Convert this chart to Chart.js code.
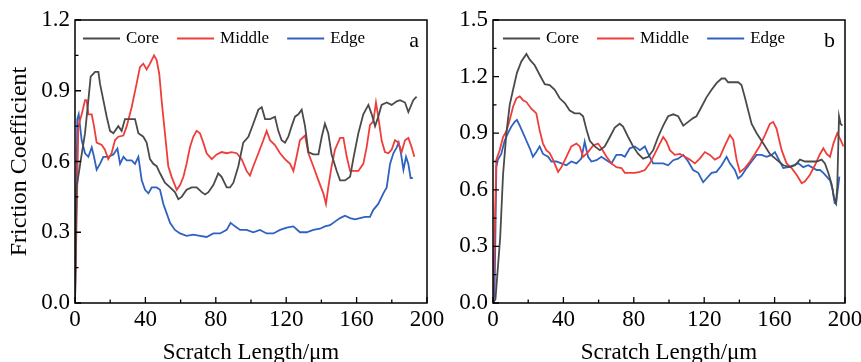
<!DOCTYPE html>
<html>
<head>
<meta charset="utf-8">
<script src="https://cdn.jsdelivr.net/npm/chart.js@4"></script>
<style>
body { margin: 0; background: #fff; }
#wrap { position: relative; width: 861px; height: 362px; overflow: hidden; }
canvas { position: absolute; top: 0; }
#chartA { left: 0; }
#chartB { left: 430px; }
</style>
</head>
<body>
<div id="wrap">
<canvas id="chartA" width="460" height="362"></canvas>
<canvas id="chartB" width="431" height="362"></canvas>
</div>
<script>
const seriesNames = ['Core', 'Middle', 'Edge']
const seriesColors = ['#4a4a4a', '#ef3e3a', '#2f62c0']
const xTicks = [0, 40, 80, 120, 160, 200]
const yTicksA = [0, 0.3, 0.6, 0.9, 1.2]
const yTicksB = [0, 0.3, 0.6, 0.9, 1.2, 1.5]

// panel a
const coreAX = [0, 0.9, 3.8, 5.7, 7.6, 8.9, 11.4, 13.3, 14.2, 16.1, 18, 19.9, 21.8, 24.6, 26.5, 28.4, 31.3, 34.1, 36, 38.8, 40.7, 42.6, 44.5, 46.4, 48.3, 51.1, 54, 56.8, 58.7, 60.6, 63.4, 66.3, 69.1, 72, 73.9, 75.8, 78.6, 81.4, 83.3, 86.2, 88.1, 90, 92.8, 95.6, 98.5, 101.3, 104.2, 106.1, 108, 110.8, 113.6, 115.5, 117.4, 119.3, 121.2, 123.1, 125, 126.9, 128.8, 130.7, 132.6, 135.4, 138.3, 140.2, 142, 143.9, 145.8, 148.7, 150.6, 153.4, 156.3, 158.1, 161, 163.8, 166.7, 168.6, 170.5, 172.3, 174.2, 177.1, 179.9, 182.8, 184.7, 187.5, 189.4, 192.2, 194.1]
const coreAY = [0, 0.49, 0.63, 0.72, 0.86, 0.96, 0.98, 0.98, 0.93, 0.86, 0.79, 0.73, 0.72, 0.75, 0.73, 0.78, 0.78, 0.78, 0.72, 0.705, 0.68, 0.61, 0.59, 0.58, 0.55, 0.51, 0.49, 0.47, 0.44, 0.45, 0.48, 0.49, 0.49, 0.47, 0.46, 0.47, 0.5, 0.55, 0.535, 0.49, 0.49, 0.51, 0.58, 0.68, 0.705, 0.76, 0.82, 0.83, 0.78, 0.78, 0.79, 0.73, 0.69, 0.68, 0.705, 0.75, 0.79, 0.8, 0.82, 0.75, 0.64, 0.63, 0.63, 0.705, 0.76, 0.72, 0.63, 0.56, 0.52, 0.52, 0.535, 0.61, 0.72, 0.8, 0.84, 0.8, 0.75, 0.79, 0.84, 0.85, 0.84, 0.855, 0.86, 0.85, 0.81, 0.86, 0.875]
const middleAX = [0, 1.9, 3.8, 5.7, 6.6, 7.6, 9.5, 10.8, 12.3, 15.2, 17, 18.9, 20.8, 22.7, 24.6, 27.5, 29.4, 32.2, 35, 36.9, 38.8, 40.7, 42.6, 44.9, 46.4, 47.9, 49.2, 51.1, 53, 54.9, 57.8, 59.7, 61.6, 63.4, 65.3, 67.2, 69.1, 71, 72.9, 74.8, 77.7, 80.5, 83.3, 86.2, 89, 91.9, 94.7, 97.5, 99.4, 101.3, 104.2, 107, 108.9, 110.8, 113.6, 116.5, 119.3, 122.2, 124.1, 125.9, 127.8, 130.7, 132.6, 135.4, 138.3, 141.1, 142.6, 143.9, 145.8, 147.7, 150.6, 152.5, 154.4, 156.3, 158.1, 161, 163.8, 165.7, 167.6, 169.5, 171, 172.3, 174.2, 176.1, 178, 179.9, 181.8, 183.7, 185.6, 187.5, 189.4, 191.3, 192.8]
const middleAY = [0, 0.75, 0.8, 0.86, 0.86, 0.8, 0.8, 0.75, 0.68, 0.67, 0.65, 0.61, 0.635, 0.69, 0.705, 0.71, 0.75, 0.83, 0.93, 1.0, 1.015, 0.99, 1.015, 1.05, 1.03, 0.97, 0.86, 0.72, 0.58, 0.535, 0.48, 0.5, 0.535, 0.59, 0.66, 0.705, 0.73, 0.72, 0.68, 0.635, 0.61, 0.63, 0.64, 0.635, 0.64, 0.635, 0.61, 0.56, 0.54, 0.58, 0.635, 0.69, 0.73, 0.69, 0.67, 0.635, 0.61, 0.59, 0.56, 0.62, 0.69, 0.71, 0.635, 0.58, 0.52, 0.465, 0.42, 0.49, 0.58, 0.65, 0.7, 0.7, 0.62, 0.56, 0.56, 0.56, 0.59, 0.66, 0.755, 0.77, 0.85, 0.79, 0.69, 0.64, 0.635, 0.65, 0.69, 0.68, 0.64, 0.69, 0.7, 0.66, 0.62]
const edgeAX = [0, 1.3, 2.1, 3.8, 5.7, 7.6, 9.5, 10.8, 12.3, 14.2, 16.1, 18.9, 21.8, 24.1, 25.6, 27.5, 29.4, 32.2, 34.1, 36, 37.9, 39.8, 41.7, 43.6, 46.4, 48.3, 50.2, 52.1, 54, 56.8, 59.7, 63.4, 67.2, 71, 74.8, 78.6, 82.4, 86.2, 88.4, 90.9, 93.8, 97.5, 101.3, 105.1, 108.9, 112.7, 116.5, 120.3, 124.1, 127.8, 131.6, 135.4, 139.2, 142, 144.9, 147.7, 150.6, 153.4, 156.3, 159.1, 161.9, 164.8, 167.6, 169.5, 172.3, 175.2, 177.1, 179, 180.9, 182.8, 183.9, 185.2, 186.6, 188.1, 189.4, 190.7, 191.9]
const edgeAY = [0, 0.78, 0.8, 0.69, 0.635, 0.62, 0.66, 0.62, 0.565, 0.59, 0.62, 0.62, 0.63, 0.655, 0.59, 0.62, 0.605, 0.605, 0.59, 0.62, 0.52, 0.48, 0.465, 0.49, 0.49, 0.48, 0.42, 0.38, 0.34, 0.31, 0.295, 0.285, 0.29, 0.285, 0.28, 0.295, 0.295, 0.31, 0.34, 0.325, 0.31, 0.31, 0.3, 0.31, 0.295, 0.295, 0.31, 0.32, 0.325, 0.3, 0.3, 0.31, 0.315, 0.325, 0.33, 0.345, 0.36, 0.37, 0.36, 0.355, 0.36, 0.365, 0.365, 0.395, 0.42, 0.465, 0.49, 0.59, 0.635, 0.66, 0.68, 0.635, 0.565, 0.62, 0.59, 0.53, 0.53]

// panel b
const coreBX = [0, 1.4, 4.1, 5.7, 7.6, 9.5, 11.4, 13.6, 16.1, 19, 20.9, 23.7, 26.5, 29.4, 32.2, 35.1, 37.9, 40.8, 43.6, 46.4, 49.3, 51.2, 53.1, 55, 57.8, 60.7, 63.5, 66.4, 69.2, 72, 73.9, 76.8, 79.6, 82.5, 85.3, 88.2, 91, 93.8, 96.7, 99.5, 102.4, 105.2, 108.1, 110.9, 113.7, 115.6, 118.5, 121.3, 124.2, 127, 129.9, 131.8, 133.6, 136.5, 139.3, 141.2, 143.1, 145, 146.9, 149.8, 153.6, 157.3, 161.1, 164.9, 168.7, 171.6, 174.4, 177.3, 180.1, 183.9, 186.7, 188.6, 190.5, 192.4, 193.7, 194.9, 195.6, 196.6, 197.5, 198.5]
const coreBY = [0, 0.02, 0.35, 0.68, 0.9, 1.05, 1.13, 1.22, 1.28, 1.32, 1.29, 1.26, 1.21, 1.16, 1.155, 1.13, 1.085, 1.06, 1.02, 1.005, 1.005, 0.99, 0.92, 0.86, 0.83, 0.81, 0.83, 0.88, 0.93, 0.95, 0.935, 0.88, 0.83, 0.79, 0.765, 0.775, 0.81, 0.88, 0.94, 0.99, 1.0, 0.99, 0.94, 0.96, 0.98, 0.99, 1.04, 1.09, 1.13, 1.165, 1.19, 1.19, 1.17, 1.17, 1.17, 1.155, 1.09, 1.02, 0.95, 0.9, 0.845, 0.79, 0.76, 0.73, 0.72, 0.73, 0.76, 0.75, 0.75, 0.75, 0.76, 0.74, 0.69, 0.63, 0.56, 0.53, 0.615, 0.99, 0.95, 0.94]
const middleBX = [0, 1.9, 3.8, 5.7, 7.6, 9.5, 11.4, 13.3, 15.2, 17.1, 19, 21.8, 24.6, 26.5, 28.4, 30.3, 32.2, 34.1, 37, 38.9, 41.7, 44.5, 47.4, 49.3, 51.2, 54, 56.9, 59.7, 61.6, 64.5, 67.3, 70.1, 73, 74.9, 77.7, 80.6, 83.4, 86.3, 89.1, 91.9, 94.8, 96.7, 98.6, 100.5, 103.3, 106.2, 109, 111.8, 114.7, 117.5, 120.4, 123.2, 126.1, 128.9, 131.8, 134.6, 136.5, 138.4, 140.3, 143.1, 146, 148.8, 151.7, 154.5, 157.3, 159.2, 161.1, 164, 166.8, 169.7, 172.5, 175.4, 177.3, 180.1, 182.9, 185.8, 187.7, 189.6, 191.5, 193.4, 195.6, 197.5, 199.1]
const middleBY = [0, 0.76, 0.81, 0.88, 0.91, 0.97, 1.04, 1.085, 1.095, 1.075, 1.065, 1.03, 1.005, 0.915, 0.845, 0.81, 0.795, 0.76, 0.695, 0.72, 0.775, 0.83, 0.845, 0.83, 0.775, 0.8, 0.835, 0.845, 0.82, 0.775, 0.74, 0.72, 0.715, 0.69, 0.69, 0.69, 0.695, 0.705, 0.74, 0.79, 0.845, 0.88, 0.855, 0.81, 0.785, 0.79, 0.775, 0.76, 0.74, 0.765, 0.8, 0.785, 0.76, 0.775, 0.835, 0.89, 0.865, 0.76, 0.695, 0.715, 0.75, 0.79, 0.835, 0.89, 0.95, 0.96, 0.925, 0.81, 0.74, 0.715, 0.68, 0.635, 0.645, 0.68, 0.73, 0.79, 0.82, 0.79, 0.775, 0.845, 0.9, 0.865, 0.83]
const edgeBX = [0, 0.9, 1.9, 2.8, 4.7, 6.6, 8.5, 10.4, 12.3, 13.6, 15.2, 17.1, 19, 20.9, 22.7, 24.6, 26.5, 28.4, 31.3, 33.2, 36, 38.9, 41.7, 44.5, 47.4, 50.2, 52.1, 54, 55.9, 58.8, 61.6, 64.5, 67.3, 70.1, 73, 74.9, 77.7, 80.6, 83.4, 86.3, 88.2, 91, 93.8, 96.7, 99.5, 102.4, 105.2, 108.1, 110.9, 113.7, 116.6, 119.4, 121.3, 124.2, 127, 129.9, 132.7, 134.6, 137.4, 139.3, 141.2, 144.1, 146.9, 149.8, 152.6, 155.5, 158.3, 160.2, 162.1, 164.9, 167.8, 170.6, 173.5, 176.3, 179.1, 182, 183.9, 185.8, 187.7, 189.6, 191.5, 193, 194.1, 194.9, 195.6, 196.8]
const edgeBY = [0, 0.05, 0.72, 0.76, 0.79, 0.86, 0.9, 0.935, 0.96, 0.97, 0.94, 0.9, 0.86, 0.82, 0.775, 0.8, 0.83, 0.79, 0.775, 0.75, 0.75, 0.74, 0.73, 0.75, 0.74, 0.765, 0.855, 0.775, 0.75, 0.757, 0.775, 0.757, 0.74, 0.785, 0.785, 0.775, 0.82, 0.83, 0.81, 0.83, 0.79, 0.74, 0.74, 0.74, 0.73, 0.757, 0.765, 0.785, 0.75, 0.705, 0.69, 0.64, 0.66, 0.69, 0.695, 0.73, 0.775, 0.74, 0.705, 0.66, 0.675, 0.715, 0.75, 0.785, 0.785, 0.775, 0.785, 0.8, 0.765, 0.715, 0.72, 0.73, 0.74, 0.72, 0.73, 0.715, 0.705, 0.705, 0.69, 0.67, 0.65, 0.6, 0.53, 0.525, 0.58, 0.67]

const serif = '"Liberation Serif", "Times New Roman", serif'

function points(xs, ys) {
	return xs.map((x, i) => ({ x: x, y: ys[i] }))
}

function makeDatasets(list) {
	return list.map((pair, i) => ({
		label: seriesNames[i],
		data: points(pair[0], pair[1]),
		borderColor: seriesColors[i],
		borderWidth: 1.8,
		pointRadius: 0,
		tension: 0,
		fill: false,
	}))
}

// frame, inward ticks, legend and panel letter
const overlay = {
	id: 'overlay',
	afterDraw(chart, args, o) {
		const ctx = chart.ctx
		const a = chart.chartArea
		const xs = chart.scales.x
		const ys = chart.scales.y
		ctx.save()
		ctx.strokeStyle = '#000'
		ctx.lineWidth = 1.3
		ctx.beginPath()
		for (let v = 0; v <= 200; v += 20) {
			let px = xs.getPixelForValue(v)
			let len = v % 40 === 0 ? 6 : 3.5
			ctx.moveTo(px, a.bottom)
			ctx.lineTo(px, a.bottom - len)
		}
		for (let k = 0; k <= o.yMax / 0.15 + 0.01; k++) {
			let py = ys.getPixelForValue(k * 0.15)
			let len = k % 2 === 0 ? 6 : 3.5
			ctx.moveTo(a.left, py)
			ctx.lineTo(a.left + len, py)
		}
		ctx.stroke()
		ctx.lineWidth = 1.5
		ctx.strokeRect(a.left, a.top, a.right - a.left, a.bottom - a.top)

		ctx.font = '17px ' + serif
		ctx.textBaseline = 'middle'
		ctx.textAlign = 'left'
		let x = a.left + o.legendX
		let y = a.top + 18.5
		chart.data.datasets.forEach(ds => {
			ctx.strokeStyle = ds.borderColor
			ctx.lineWidth = 1.8
			ctx.beginPath()
			ctx.moveTo(x, y)
			ctx.lineTo(x + 37, y)
			ctx.stroke()
			ctx.fillStyle = '#000'
			ctx.fillText(ds.label, x + 43, y)
			x += 43 + ctx.measureText(ds.label).width + 18
		})

		ctx.font = '22px ' + serif
		ctx.textAlign = 'right'
		ctx.textBaseline = 'alphabetic'
		ctx.fillText(o.letter, a.right - o.letterX, a.top + 27)
		ctx.restore()
	},
}

function makeChart(canvas, datasets, yMax, opt) {
	return new Chart(canvas, {
		type: 'line',
		data: { datasets: datasets },
		options: {
			responsive: false,
			animation: false,
			devicePixelRatio: 1,
			layout: { padding: { top: 20, right: opt.padRight, left: 0, bottom: 0 } },
			scales: {
				x: {
					type: 'linear',
					min: 0,
					max: 200,
					afterBuildTicks: s => { s.ticks = xTicks.map(v => ({ value: v })) },
					ticks: { color: '#000', font: { family: serif, size: 23 }, padding: 3, maxRotation: 0, autoSkip: false },
					grid: { display: false, drawTicks: false },
					border: { display: false },
					title: { display: true, text: 'Scratch Length/μm', color: '#000', font: { family: serif, size: 23 }, padding: { top: 0, bottom: -5 } },
					afterFit: s => { s.height = 59; s.paddingLeft = 0; s.paddingRight = 0 },
				},
				y: {
					min: 0,
					max: yMax,
					afterBuildTicks: s => { s.ticks = opt.yTicks.map(v => ({ value: v })) },
					ticks: { color: '#000', font: { family: serif, size: 23 }, padding: 5, callback: v => v.toFixed(1) },
					grid: { display: false, drawTicks: false },
					border: { display: false },
					title: { display: opt.yTitle, text: 'Friction Coefficient', color: '#000', font: { family: serif, size: 24 }, padding: { top: 5, bottom: 0 } },
					afterFit: s => { s.width = opt.yWidth; s.paddingTop = 0; s.paddingBottom = 0 },
				},
			},
			plugins: {
				legend: { display: false },
				tooltip: { enabled: false },
				overlay: { yMax: yMax, letter: opt.letter, legendX: opt.legendX, letterX: opt.letterX },
			},
		},
		plugins: [overlay],
	})
}

makeChart(document.getElementById('chartA'), makeDatasets([[coreAX, coreAY], [middleAX, middleAY], [edgeAX, edgeAY]]), 1.2, {
	yTicks: yTicksA, yTitle: true, yWidth: 75, padRight: 33, letter: 'a', legendX: 8, letterX: 8,
})
makeChart(document.getElementById('chartB'), makeDatasets([[coreBX, coreBY], [middleBX, middleBY], [edgeBX, edgeBY]]), 1.5, {
	yTicks: yTicksB, yTitle: false, yWidth: 63, padRight: 16, letter: 'b', legendX: 10, letterX: 10,
})
</script>
</body>
</html>
